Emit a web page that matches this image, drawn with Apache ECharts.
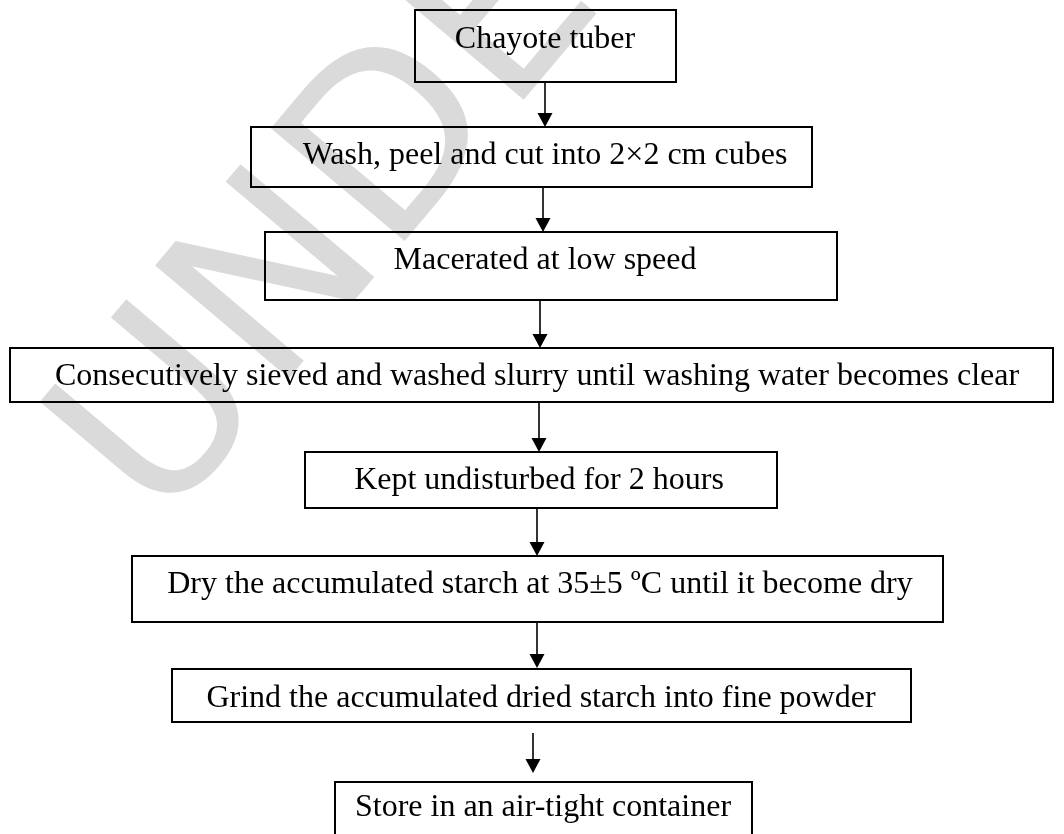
<!DOCTYPE html>
<html>
<head>
<meta charset="utf-8">
<script src="https://cdn.jsdelivr.net/npm/echarts@6/dist/echarts.min.js"></script>
<style>
html,body{margin:0;padding:0;background:#fff;}
#main{width:1064px;height:834px;}
</style>
</head>
<body>
<div id="main"></div>
<script>
// Flowchart steps (categories)
const steps = [
  'Chayote tuber',
  'Wash, peel and cut into 2\u00d72 cm cubes',
  'Macerated at low speed',
  'Consecutively sieved and washed slurry until washing water becomes clear',
  'Kept undisturbed for 2 hours',
  'Dry the accumulated starch at 35\u00b15 \u00baC until it become dry',
  'Grind the accumulated dried starch into fine powder',
  'Store in an air-tight container'
];
const watermark = 'UNDER PEER REVIEW';

// Layout (axis units = page pixels)
const boxLeft   = [415, 251, 265, 10, 305, 132, 172, 335];
const boxRight  = [676, 812, 837, 1053, 777, 943, 911, 752];
const boxTop    = [10, 127, 232, 348, 452, 556, 669, 782];
const boxBottom = [82, 187, 300, 402, 508, 622, 722, 880];
const textX     = [545, 545, 545, 537, 539, 540, 541, 543];
const textY     = [40, 156, 261, 377, 481, 585, 699, 808];
const arrowX    = [545, 543, 540, 539, 537, 537, 533];
const arrowFrom = [82, 187, 300, 403, 508, 622, 733];
const arrowTo   = [127, 232, 348, 452, 556, 668, 773];

const chart = echarts.init(document.getElementById('main'), null, {renderer: 'canvas'});

const boxData = steps.map((s, i) => [i]);
const arrowData = arrowX.map((x, i) => [i]);

chart.setOption({
  animation: false,
  backgroundColor: '#ffffff',
  grid: {left: 0, right: 0, top: 0, bottom: 0},
  xAxis: {type: 'value', min: 0, max: 1064, show: false},
  yAxis: {type: 'value', min: 0, max: 834, inverse: true, show: false},
  graphic: [{
    type: 'text',
    x: 21, y: 413,
    rotation: 0.87,
    z: 0,
    silent: true,
    style: {
      text: watermark,
      font: '240px "DejaVu Sans", sans-serif',
      fill: '#dadada',
      textVerticalAlign: 'alphabetic'
    }
  }],
  series: [
    {
      type: 'custom',
      coordinateSystem: 'cartesian2d',
      z: 5,
      data: boxData,
      renderItem: function (params, api) {
        const i = api.value(0);
        const p0 = api.coord([boxLeft[i], boxTop[i]]);
        const p1 = api.coord([boxRight[i], boxBottom[i]]);
        const t = api.coord([textX[i], textY[i]]);
        return {
          type: 'group',
          children: [
            {
              type: 'rect',
              shape: {x: p0[0], y: p0[1], width: p1[0] - p0[0], height: p1[1] - p0[1]},
              style: {fill: 'rgba(255,255,255,0)', stroke: '#000', lineWidth: 2}
            },
            {
              type: 'text',
              style: {
                text: steps[i],
                x: t[0], y: t[1],
                align: 'center', verticalAlign: 'middle',
                font: '32px "Liberation Serif", "Times New Roman", serif',
                fill: '#000'
              }
            }
          ]
        };
      }
    },
    {
      type: 'custom',
      coordinateSystem: 'cartesian2d',
      z: 6,
      data: arrowData,
      renderItem: function (params, api) {
        const i = api.value(0);
        const a = api.coord([arrowX[i], arrowFrom[i]]);
        const b = api.coord([arrowX[i], arrowTo[i]]);
        const h = 14, w = 7.5;
        return {
          type: 'group',
          children: [
            {
              type: 'line',
              shape: {x1: a[0], y1: a[1], x2: b[0], y2: b[1] - h + 1},
              style: {stroke: '#000', lineWidth: 1.6}
            },
            {
              type: 'polygon',
              shape: {points: [[b[0] - w, b[1] - h], [b[0] + w, b[1] - h], [b[0], b[1]]]},
              style: {fill: '#000'}
            }
          ]
        };
      }
    }
  ]
});
</script>
</body>
</html>
